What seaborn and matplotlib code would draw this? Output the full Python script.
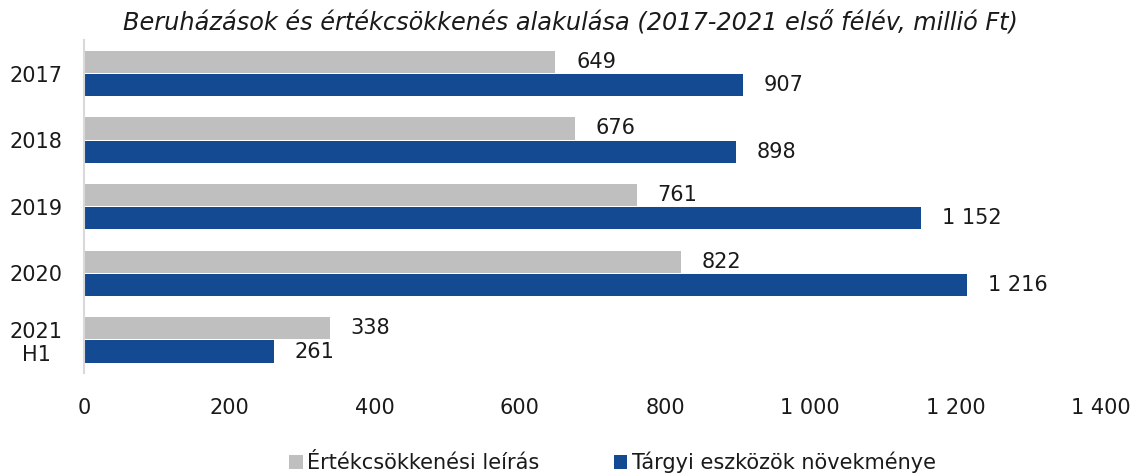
import pandas as pd
import seaborn as sns
import matplotlib.pyplot as plt
from matplotlib.patches import Patch

# Data
years = ['2017', '2018', '2019', '2020', '2021\nH1']
ertekcsokkenes = [649, 676, 761, 822, 338]
targyi = [907, 898, 1152, 1216, 261]
series_names = ['Értékcsökkenési leírás', 'Tárgyi eszközök növekménye']
colors = ['#BFBFBF', '#144A92']
x_ticks = [0, 200, 400, 600, 800, 1000, 1200, 1400]

df = pd.DataFrame({
    'year': years * 2,
    'value': ertekcsokkenes + targyi,
    'series': [series_names[0]] * len(years) + [series_names[1]] * len(years),
})

def fmt(v):
    return f'{v:,.0f}'.replace(',', ' ')

sns.set_style('white')
plt.rcParams['font.family'] = ['DejaVu Sans']

fig = plt.figure(figsize=(11.36, 4.73), dpi=100)
ax = fig.add_axes([0.074, 0.211, 0.895, 0.704])

sns.barplot(data=df, y='year', x='value', hue='series', orient='h',
            palette=dict(zip(series_names, colors)), width=0.7, gap=0.05,
            saturation=1, linewidth=0, legend=False, ax=ax)

for cont in ax.containers:
    labels = [fmt(b.get_width()) for b in cont]
    ax.bar_label(cont, labels=labels, padding=15, fontsize=15, color='#1a1a1a')

ax.set_xlim(0, 1400)
ax.set_ylim(4.5, -0.5)
ax.set_xticks(x_ticks)
ax.set_xticklabels([fmt(t) for t in x_ticks])
ax.tick_params(axis='x', length=0, pad=18, labelsize=15, colors='#1a1a1a')
ax.tick_params(axis='y', length=0, pad=8, labelsize=15, colors='#1a1a1a')
for lab in ax.get_yticklabels():
    lab.set_horizontalalignment('center')
    lab.set_x(-0.036)
ax.set_xlabel('')
ax.set_ylabel('')
for s in ['top', 'right', 'bottom']:
    ax.spines[s].set_visible(False)
ax.spines['left'].set_color('#D9D9D9')
ax.spines['left'].set_linewidth(1.5)

ax.set_title('Beruházások és értékcsökkenés alakulása (2017-2021 első félév, millió Ft)',
             style='italic', fontsize=17.3, color='#1a1a1a', pad=8, x=0.478)

handles = [Patch(facecolor=c, edgecolor='none') for c in colors]
fig.legend(handles, series_names, loc='lower center', bbox_to_anchor=(0.539, -0.04),
           ncol=2, frameon=False, fontsize=15, handlelength=0.65, handleheight=0.65,
           handletextpad=0.2, columnspacing=3.6, labelcolor='#1a1a1a')

fig.savefig('out.png', dpi=100)
